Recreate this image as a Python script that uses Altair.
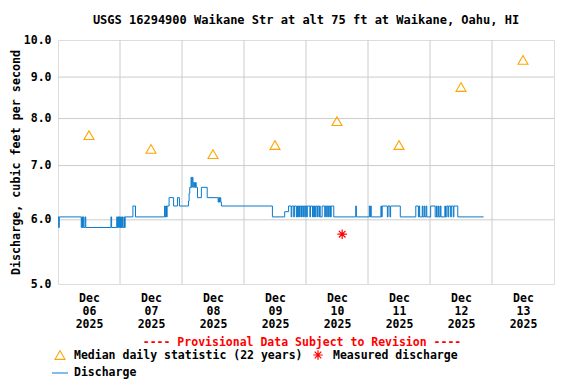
import altair as alt
import pandas as pd

TITLE = "USGS 16294900 Waikane Str at alt 75 ft at Waikane, Oahu, HI"

# Discharge (cfs): change points of the 15-minute record (step-after)
q_time = [
    "2025-12-06T00:00", "2025-12-06T00:15", "2025-12-06T00:30",
    "2025-12-06T09:00", "2025-12-06T09:15", "2025-12-06T09:30", "2025-12-06T09:45",
    "2025-12-06T10:00", "2025-12-06T10:30", "2025-12-06T10:45",
    "2025-12-06T20:30", "2025-12-06T20:45",
    "2025-12-06T22:45", "2025-12-06T23:00", "2025-12-06T23:15", "2025-12-06T23:30",
    "2025-12-06T23:45", "2025-12-07T00:00", "2025-12-07T00:15", "2025-12-07T00:30",
    "2025-12-07T00:45", "2025-12-07T01:00", "2025-12-07T01:30", "2025-12-07T01:45",
    "2025-12-07T02:00",
    "2025-12-07T05:00", "2025-12-07T06:00",
    "2025-12-07T17:15", "2025-12-07T17:30", "2025-12-07T17:45", "2025-12-07T18:00",
    "2025-12-07T18:15", "2025-12-07T19:00", "2025-12-07T20:45", "2025-12-07T22:15",
    "2025-12-07T23:00",
    "2025-12-08T02:30", "2025-12-08T02:45", "2025-12-08T03:00", "2025-12-08T03:30",
    "2025-12-08T03:45", "2025-12-08T04:00", "2025-12-08T04:15", "2025-12-08T04:30",
    "2025-12-08T04:45", "2025-12-08T05:00", "2025-12-08T05:15", "2025-12-08T05:30",
    "2025-12-08T06:00", "2025-12-08T07:30", "2025-12-08T09:45",
    "2025-12-08T14:00", "2025-12-08T14:15", "2025-12-08T14:30", "2025-12-08T14:45",
    "2025-12-08T15:00", "2025-12-08T15:15",
    "2025-12-09T11:00", "2025-12-09T15:45", "2025-12-09T17:15",
    "2025-12-09T18:15", "2025-12-09T18:30", "2025-12-09T19:15", "2025-12-09T19:30",
    "2025-12-09T20:15", "2025-12-09T20:30", "2025-12-09T20:45", "2025-12-09T21:00",
    "2025-12-09T21:15", "2025-12-09T21:30", "2025-12-09T22:00", "2025-12-09T22:15",
    "2025-12-09T22:45", "2025-12-09T23:00", "2025-12-09T23:30", "2025-12-09T23:45",
    "2025-12-10T00:15", "2025-12-10T00:30", "2025-12-10T01:30", "2025-12-10T01:45",
    "2025-12-10T02:30", "2025-12-10T02:45", "2025-12-10T03:00", "2025-12-10T03:15",
    "2025-12-10T03:30", "2025-12-10T03:45", "2025-12-10T04:15", "2025-12-10T04:30",
    "2025-12-10T05:00", "2025-12-10T05:15", "2025-12-10T05:30", "2025-12-10T06:15",
    "2025-12-10T07:15", "2025-12-10T07:30", "2025-12-10T08:00", "2025-12-10T08:15",
    "2025-12-10T08:45", "2025-12-10T09:00", "2025-12-10T09:30", "2025-12-10T09:45",
    "2025-12-10T10:45", "2025-12-10T19:15", "2025-12-10T19:30",
    "2025-12-11T00:30", "2025-12-11T00:45", "2025-12-11T01:00", "2025-12-11T01:15",
    "2025-12-11T05:00", "2025-12-11T05:15", "2025-12-11T05:30", "2025-12-11T07:30",
    "2025-12-11T07:45", "2025-12-11T08:30", "2025-12-11T08:45", "2025-12-11T12:30",
    "2025-12-11T18:30", "2025-12-11T19:30", "2025-12-11T19:45", "2025-12-11T20:00",
    "2025-12-11T21:00", "2025-12-11T21:15", "2025-12-11T21:45", "2025-12-11T22:00",
    "2025-12-11T22:30", "2025-12-11T22:45",
    "2025-12-12T00:15", "2025-12-12T02:00", "2025-12-12T02:30", "2025-12-12T02:45",
    "2025-12-12T03:15", "2025-12-12T03:30", "2025-12-12T04:00", "2025-12-12T04:15",
    "2025-12-12T05:45", "2025-12-12T06:00", "2025-12-12T06:30", "2025-12-12T07:00",
    "2025-12-12T07:15", "2025-12-12T08:00", "2025-12-12T08:15", "2025-12-12T09:00",
    "2025-12-12T09:15", "2025-12-12T10:45", "2025-12-12T20:45",
]
q_value = [
    6.05, 5.87, 6.05,
    5.87, 6.05, 5.87, 6.05,
    5.87, 6.05, 5.87,
    6.05, 5.87,
    6.05, 5.87, 6.05, 5.87,
    6.05, 5.87, 6.05, 5.87,
    6.05, 5.87, 6.05, 5.87,
    6.05,
    6.24, 6.05,
    6.24, 6.05, 6.24, 6.05,
    6.24, 6.39, 6.24, 6.39,
    6.24,
    6.33, 6.47, 6.58, 6.77,
    6.58, 6.77, 6.67, 6.58,
    6.67, 6.58, 6.67, 6.58,
    6.39, 6.58, 6.39,
    6.31, 6.39, 6.31, 6.39,
    6.31, 6.24,
    6.05, 6.14, 6.24,
    6.05, 6.24, 6.05, 6.24,
    6.05, 6.24, 6.05, 6.24,
    6.05, 6.24, 6.05, 6.24,
    6.05, 6.24, 6.05, 6.24,
    6.05, 6.24, 6.05, 6.24,
    6.05, 6.24, 6.05, 6.24,
    6.05, 6.24, 6.05, 6.24,
    6.05, 6.24, 6.05, 6.24,
    6.05, 6.24, 6.05, 6.24,
    6.05, 6.24, 6.05, 6.24,
    6.05, 6.24, 6.05,
    6.24, 6.05, 6.24, 6.05,
    6.24, 6.05, 6.24, 6.05,
    6.24, 6.05, 6.24, 6.05,
    6.24, 6.05, 6.24, 6.05,
    6.24, 6.05, 6.24, 6.05,
    6.24, 6.05,
    6.24, 6.05, 6.24, 6.05,
    6.24, 6.05, 6.24, 6.05,
    6.24, 6.05, 6.24, 6.05,
    6.24, 6.05, 6.24, 6.05,
    6.24, 6.05, 6.05,
]

# Median daily statistic (22 years)
median_time = ["2025-12-06T12:00", "2025-12-07T12:00", "2025-12-08T12:00", "2025-12-09T12:00",
               "2025-12-10T12:00", "2025-12-11T12:00", "2025-12-12T12:00", "2025-12-13T12:00"]
median_value = [7.63, 7.34, 7.23, 7.42, 7.94, 7.42, 8.75, 9.45]

# Measured discharge
meas_time = ["2025-12-10T14:00"]
meas_value = [5.76]

y_ticks = [5.0, 6.0, 7.0, 8.0, 9.0, 10.0]
y_grid = [6.0, 7.0, 8.0, 9.0]
day_bounds = ["2025-12-07T00:00", "2025-12-08T00:00", "2025-12-09T00:00", "2025-12-10T00:00",
              "2025-12-11T00:00", "2025-12-12T00:00", "2025-12-13T00:00"]
label_days = [6, 7, 8, 9, 10, 11, 12, 13]

FONT = "DejaVu Sans Mono"
FS = 11.5
BLUE = "#0a7acc"
ORANGE = "#ffa500"
RED = "#ff0000"
GRID = "#cccccc"
ASTERISK = "M-1,0L1,0M0,-1L0,1M-0.7,-0.7L0.7,0.7M-0.7,0.7L0.7,-0.7"

q_df = pd.DataFrame({"t": q_time, "v": q_value})
med_df = pd.DataFrame({"t": median_time, "v": median_value})
meas_df = pd.DataFrame({"t": meas_time, "v": meas_value})
vgrid_df = pd.DataFrame({"t": day_bounds})
hgrid_df = pd.DataFrame({"v": y_grid})

xscale = alt.Scale(domain=[alt.DateTime(year=2025, month=12, date=6),
                           alt.DateTime(year=2025, month=12, date=14)])
yscale = alt.Scale(type="log", domain=[5, 10])

x_axis = alt.Axis(
    values=[alt.DateTime(year=2025, month=12, date=d, hours=12) for d in label_days],
    format="%b %d %Y", labelExpr="split(datum.label, ' ')",
    grid=False, ticks=False, domain=False, labelPadding=8, labelLineHeight=13,
    labelFont=FONT, labelFontSize=FS, labelFontWeight="bold", labelColor="black",
    labelAlign="center", labelBaseline="top",
)
y_axis = alt.Axis(
    values=y_ticks, format=".1f", grid=False, ticks=False, domain=False,
    labelPadding=7, labelFont=FONT, labelFontSize=FS, labelFontWeight="bold",
    labelColor="black", title="Discharge, cubic feet per second", titlePadding=2,
    titleFont=FONT, titleFontSize=11.7, titleFontWeight="bold", titleColor="black",
)

X = alt.X("t:T", scale=xscale, axis=x_axis, title=None)
Y = alt.Y("v:Q", scale=yscale, axis=y_axis)

vgrid = alt.Chart(vgrid_df).mark_rule(color=GRID, strokeWidth=1).encode(x=X)
hgrid = alt.Chart(hgrid_df).mark_rule(color=GRID, strokeWidth=1).encode(y=Y)

line = alt.Chart(q_df).mark_line(color=BLUE, strokeWidth=1, interpolate="step-after").encode(x=X, y=Y)
med = alt.Chart(med_df).mark_point(shape="triangle-up", filled=False, color=ORANGE,
                                   size=100, strokeWidth=1.1, opacity=1).encode(x=X, y=Y)
meas = alt.Chart(meas_df).mark_point(shape=ASTERISK, filled=False, color=RED,
                                     size=90, strokeWidth=1.2, opacity=1).encode(x=X, y=Y)

# Legend / note (drawn below the plot)
prov = alt.Chart(pd.DataFrame({"s": ["---- Provisional Data Subject to Revision ----"]})).mark_text(
    font=FONT, fontSize=FS, fontWeight="bold", color=RED, align="center", baseline="middle"
).encode(text="s:N", x=alt.value(244), y=alt.value(303))

leg_text = alt.Chart(pd.DataFrame({
    "s": ["Median daily statistic (22 years)", "Measured discharge", "Discharge"],
    "px": [16, 275, 16], "py": [316, 316, 333],
})).mark_text(font=FONT, fontSize=FS, fontWeight="bold", color="black", align="left",
              baseline="middle").encode(text="s:N", x=alt.X("px:Q", scale=None), y=alt.Y("py:Q", scale=None))

leg_tri = alt.Chart(pd.DataFrame({"k": ["median"]})).mark_point(
    shape="triangle-up", filled=False, color=ORANGE, size=100, strokeWidth=1.1, opacity=1
).encode(x=alt.value(2), y=alt.value(315))
leg_ast = alt.Chart(pd.DataFrame({"k": ["measured"]})).mark_point(
    shape=ASTERISK, filled=False, color=RED, size=90, strokeWidth=1.2, opacity=1
).encode(x=alt.value(260), y=alt.value(315))
leg_line = alt.Chart(pd.DataFrame({"k": ["discharge"]})).mark_rule(color=BLUE, strokeWidth=1).encode(
    x=alt.value(-6), x2=alt.value(10), y=alt.value(333)
)

chart = alt.layer(vgrid, hgrid, line, med, meas, prov, leg_text, leg_tri, leg_ast, leg_line).properties(
    width=496, height=244,
    autosize="none",
    padding={"left": 50, "top": 32, "right": 14, "bottom": 96},
    title=alt.TitleParams(TITLE, font=FONT, fontSize=12, fontWeight="bold", anchor="middle",
                          offset=7, color="black"),
).configure_view(stroke="black", strokeWidth=1).configure(background="white")

chart.save("out.html", embed_options={"renderer": "svg", "actions": False})
